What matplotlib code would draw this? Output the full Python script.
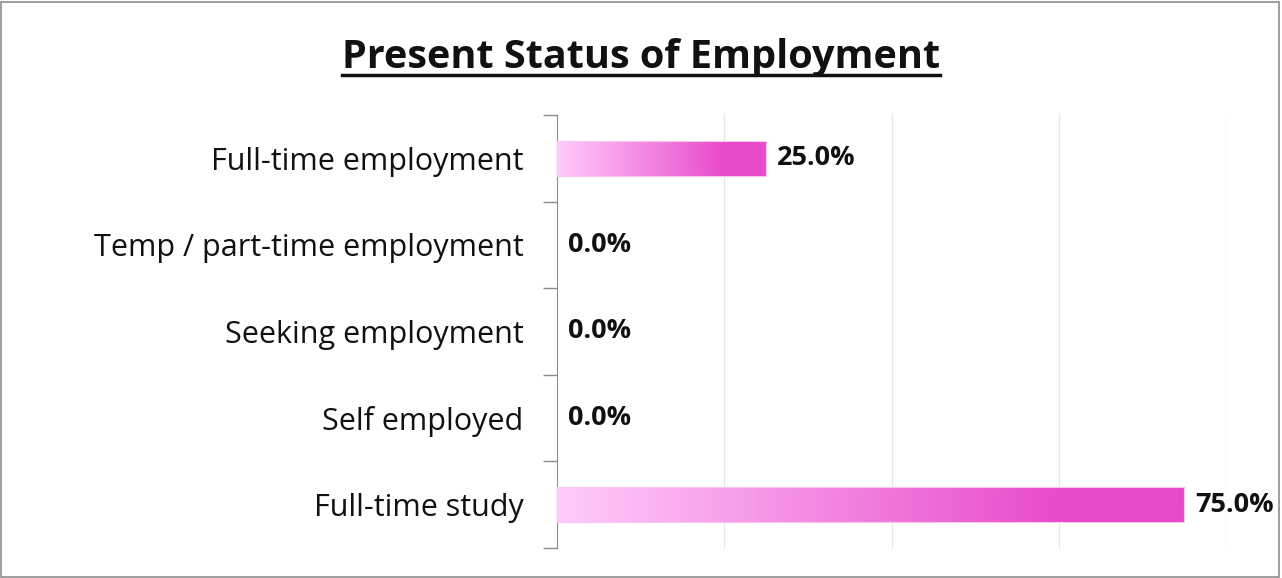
import numpy as np
import matplotlib
matplotlib.use("Agg")
import matplotlib.pyplot as plt
from matplotlib.colors import LinearSegmentedColormap
from matplotlib.patches import Rectangle

categories = ["Full-time employment", "Temp / part-time employment",
              "Seeking employment", "Self employed", "Full-time study"]
values = [25.0, 0.0, 0.0, 0.0, 75.0]
title = "Present Status of Employment"

plt.rcParams['font.family'] = ['Open Sans', 'DejaVu Sans']

fig = plt.figure(figsize=(12.82, 5.78), dpi=100)
ax = fig.add_axes([0.4345, 0.0519, 0.5218, 0.7492])

cmap = LinearSegmentedColormap.from_list(
    "pinkgrad", [(0.0, "#FFCCFB"), (0.8, "#E84ACB"), (1.0, "#E84ACB")])
grad = np.linspace(0, 1, 256).reshape(1, -1)

y = np.arange(len(categories))
h = 0.4
for yi, v in zip(y, values):
    if v > 0:
        ax.imshow(grad, cmap=cmap, aspect="auto", interpolation="bilinear",
                  extent=[0, v, yi + h / 2, yi - h / 2], zorder=3)
        ax.add_patch(Rectangle((0, yi - h / 2), v, h, fill=False,
                               edgecolor="#F9C6EF", lw=0.8, zorder=4))
    ax.text(v + 1.3, yi, f"{v:.1f}%", va="center", ha="left",
            fontsize=19.5, fontweight="bold", color="#111111", zorder=5)

ax.set_xlim(0, 80)
ax.set_ylim(len(categories) - 0.5, -0.5)
ax.set_xticks([20, 40, 60, 80])
ax.set_xticklabels([])
ax.tick_params(axis="x", length=0)
ax.grid(axis="x", color="#DCEBF0", lw=1, zorder=0)
ax.set_axisbelow(True)

ax.set_yticks(y)
ax.set_yticklabels(categories, fontsize=22, color="#111111")
ax.tick_params(axis="y", which="major", length=0, pad=24)
ax.set_yticks(np.arange(-0.5, len(categories), 1), minor=True)
ax.tick_params(axis="y", which="minor", length=10, color="#8C8C8C", width=1)

for s in ["top", "right", "bottom"]:
    ax.spines[s].set_visible(False)
ax.spines["left"].set_color("#8C8C8C")

t = fig.text(0.5, 0.9, title, ha="center", va="center",
             fontsize=28.5, fontweight="bold", color="#111111")
fig.canvas.draw()
bb = t.get_window_extent().transformed(fig.transFigure.inverted())
fig.add_artist(plt.Line2D([bb.x0, bb.x1], [bb.y0 + 0.004, bb.y0 + 0.004],
                          transform=fig.transFigure, color="#111111", lw=2.5))

fig.add_artist(Rectangle((0.001, 0.002), 0.997, 0.995, transform=fig.transFigure,
                         fill=False, edgecolor="#8C8C8C", lw=1.2))

plt.savefig("out.png", dpi=100)
